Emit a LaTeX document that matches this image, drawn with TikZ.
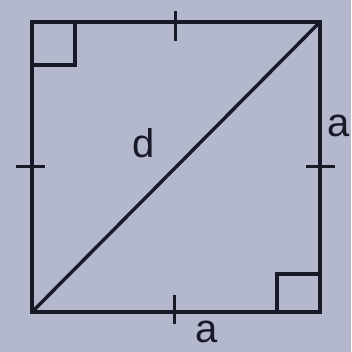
\documentclass[tikz,border=0pt]{standalone}
\usepackage{fontspec}
\setmainfont{Liberation Sans}
\definecolor{bgc}{RGB}{180,184,205}
\definecolor{ink}{RGB}{24,26,40}
\begin{document}
\begin{tikzpicture}[x=1pt,y=-1pt,
  edge/.style={draw=ink,line width=3.4pt,line cap=rect,line join=miter},
  tickmark/.style={draw=ink,line width=3pt},
  lab/.style={inner sep=0pt,text=ink,font=\fontsize{40}{40}\selectfont}]
\fill[bgc] (0,0) rectangle (351,352);
\useasboundingbox (0,0) rectangle (351,352);
\coordinate (TL) at (32,22);
\coordinate (TR) at (320,22);
\coordinate (BR) at (320,312);
\coordinate (BL) at (32,312);
\draw[edge] (TL) -- (TR) -- (BR) -- (BL) -- cycle;
\draw[edge,line cap=round] (BL) -- (TR);
% right angle marks
\coordinate (m1a) at (75,22);
\coordinate (m1b) at (75,65);
\coordinate (m1c) at (32,65);
\draw[edge,line width=3.2pt] (m1a) -- (m1b) -- (m1c);
\coordinate (m2a) at (277,312);
\coordinate (m2b) at (277,274);
\coordinate (m2c) at (320,274);
\draw[edge,line width=3.2pt] (m2a) -- (m2b) -- (m2c);
% ticks
\coordinate (t1a) at (175,11); \coordinate (t1b) at (175,41);
\draw[tickmark] (t1a) -- (t1b);
\coordinate (t2a) at (174,295); \coordinate (t2b) at (174,324);
\draw[tickmark] (t2a) -- (t2b);
\coordinate (t3a) at (16,167); \coordinate (t3b) at (45,167);
\draw[tickmark] (t3a) -- (t3b);
\coordinate (t4a) at (306,167); \coordinate (t4b) at (335,167);
\draw[tickmark] (t4a) -- (t4b);
% labels
\node[lab,anchor=base] (d) at (144,158) {d};
\node[lab,anchor=base east] (ar) at (350,137) {a};
\node[lab,anchor=base] (ab) at (207,342) {a};
\end{tikzpicture}
\end{document}
